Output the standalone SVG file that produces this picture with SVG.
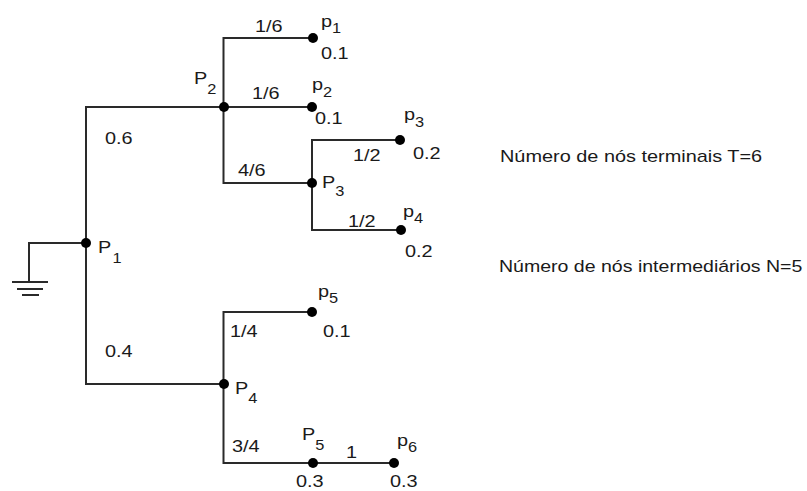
<svg xmlns="http://www.w3.org/2000/svg" width="807" height="491" viewBox="0 0 807 491">
  <style>
    .wire { fill: none; stroke: #2a2a2a; stroke-width: 2; stroke-linejoin: miter; stroke-linecap: butt; }
    .dot { fill: #000; }
    text { font-family: "Liberation Sans", Arial, sans-serif; font-size: 17px; fill: #1a1a1a; }
    .sub { font-size: 14px; }
  </style>
  <rect width="807" height="491" fill="#fff"/>

  <!-- ground symbol at the root -->
  <g id="ground" class="wire">
    <polyline points="86,243 29,243 29,282"/>
    <line x1="12" y1="282" x2="48" y2="282"/>
    <line x1="17" y1="289" x2="43" y2="289"/>
    <line x1="22" y1="295" x2="39" y2="295"/>
  </g>

  <!-- branches -->
  <g id="connectors" class="wire">
    <polyline points="86,243 86,107 224,107"/>
    <polyline points="86,243 86,384 224,384"/>
    <polyline points="223.5,107 223.5,38 313,38"/>
    <polyline points="224,107 312,107"/>
    <polyline points="223.5,107 223.5,183 312,183"/>
    <polyline points="312,183 312,140 400,140"/>
    <polyline points="312,183 312,230 401,230"/>
    <polyline points="223.5,384 223.5,312 312,312"/>
    <polyline points="223.5,384 223.5,463 313,463"/>
    <polyline points="313,463 394,463"/>
  </g>

  <!-- branch weights -->
  <g id="weights">
    <text transform="translate(105 144) scale(1.17 1)">0.6</text>
    <text transform="translate(105 357) scale(1.17 1)">0.4</text>
    <text transform="translate(255 32) scale(1.17 1)">1/6</text>
    <text transform="translate(252 99) scale(1.17 1)">1/6</text>
    <text transform="translate(238 176) scale(1.17 1)">4/6</text>
    <text transform="translate(353 161) scale(1.17 1)">1/2</text>
    <text transform="translate(348 227) scale(1.17 1)">1/2</text>
    <text transform="translate(230 337) scale(1.17 1)">1/4</text>
    <text transform="translate(232 452) scale(1.17 1)">3/4</text>
    <text transform="translate(346 458) scale(1.17 1)">1</text>
  </g>

  <!-- intermediate nodes -->
  <g id="P1">
    <circle class="dot" cx="86" cy="243" r="5"/>
    <text transform="translate(98 253) scale(1.17 1)">P<tspan class="sub" dx="1" dy="10">1</tspan></text>
  </g>
  <g id="P2">
    <circle class="dot" cx="224" cy="107" r="5"/>
    <text transform="translate(194 84) scale(1.17 1)">P<tspan class="sub" dx="0" dy="10">2</tspan></text>
  </g>
  <g id="P3">
    <circle class="dot" cx="312" cy="183" r="5"/>
    <text transform="translate(322 188) scale(1.17 1)">P<tspan class="sub" dx="0" dy="8">3</tspan></text>
  </g>
  <g id="P4">
    <circle class="dot" cx="224" cy="384" r="5"/>
    <text transform="translate(235 394) scale(1.17 1)">P<tspan class="sub" dx="0" dy="9">4</tspan></text>
  </g>
  <g id="P5">
    <circle class="dot" cx="313" cy="463" r="5"/>
    <text transform="translate(302 440) scale(1.17 1)">P<tspan class="sub" dx="0" dy="10">5</tspan></text>
    <text transform="translate(296 487) scale(1.17 1)">0.3</text>
  </g>

  <!-- terminal nodes -->
  <g id="p1">
    <circle class="dot" cx="313" cy="38" r="5"/>
    <text transform="translate(321 27) scale(1.17 1)">p<tspan class="sub" dx="0" dy="6">1</tspan></text>
    <text transform="translate(321 59) scale(1.17 1)">0.1</text>
  </g>
  <g id="p2">
    <circle class="dot" cx="312" cy="107" r="5"/>
    <text transform="translate(312 90) scale(1.17 1)">p<tspan class="sub" dx="0" dy="7">2</tspan></text>
    <text transform="translate(315 124) scale(1.17 1)">0.1</text>
  </g>
  <g id="p3">
    <circle class="dot" cx="400" cy="140" r="5"/>
    <text transform="translate(404 120) scale(1.17 1)">p<tspan class="sub" dx="0" dy="7">3</tspan></text>
    <text transform="translate(413 159) scale(1.17 1)">0.2</text>
  </g>
  <g id="p4">
    <circle class="dot" cx="401" cy="230" r="5"/>
    <text transform="translate(403 217) scale(1.17 1)">p<tspan class="sub" dx="0" dy="6">4</tspan></text>
    <text transform="translate(405 257) scale(1.17 1)">0.2</text>
  </g>
  <g id="p5">
    <circle class="dot" cx="312" cy="312" r="5"/>
    <text transform="translate(318 297) scale(1.17 1)">p<tspan class="sub" dx="0" dy="6">5</tspan></text>
    <text transform="translate(323 337) scale(1.17 1)">0.1</text>
  </g>
  <g id="p6">
    <circle class="dot" cx="394" cy="463" r="5"/>
    <text transform="translate(397 446) scale(1.17 1)">p<tspan class="sub" dx="0" dy="6">6</tspan></text>
    <text transform="translate(390 487) scale(1.17 1)">0.3</text>
  </g>

  <!-- summary counts -->
  <g id="summary">
    <text transform="translate(500 162) scale(1.17 1)">Número de nós terminais T=6</text>
    <text transform="translate(499 272) scale(1.15 1)">Número de nós intermediários N=5</text>
  </g>
</svg>
